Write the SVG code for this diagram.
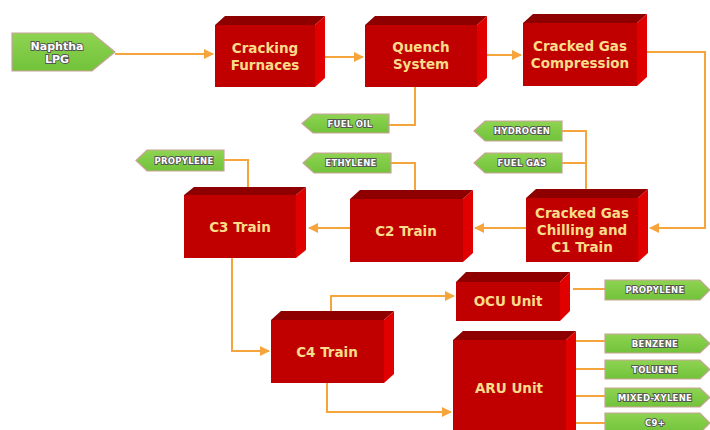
<svg xmlns="http://www.w3.org/2000/svg" width="710" height="430" viewBox="0 0 710 430">
<style>
.front{fill:#c00000}
.top{fill:#8e0000}
.side{fill:#e00000}
.bt{font-family:"DejaVu Sans",Verdana,sans-serif;font-weight:bold;font-size:13.5px;fill:#f8dc8a;text-anchor:middle}
.tag{fill:url(#g);stroke:#c9a39a;stroke-width:1.2}
.tt{font-family:"DejaVu Sans",Verdana,sans-serif;font-weight:bold;font-size:8.5px;fill:#ffffff;stroke:#555555;stroke-width:1.8;paint-order:stroke;text-anchor:middle;letter-spacing:0.3px}
.ln{fill:none;stroke:#f6a43c;stroke-width:2}
</style>
<defs>
<linearGradient id="g" x1="0" y1="0" x2="0" y2="1">
<stop offset="0" stop-color="#8ed452"/>
<stop offset="1" stop-color="#72c23a"/>
</linearGradient>
<marker id="a" viewBox="0 0 10 10" refX="9" refY="5" markerWidth="5" markerHeight="5" orient="auto" markerUnits="strokeWidth">
<path d="M0,0 L10,5 L0,10 z" fill="#f6a43c"/>
</marker>
</defs>

<g id="connectors">
<path class="ln" d="M115,54 H213" marker-end="url(#a)"/>
<path class="ln" d="M325,57 H363" marker-end="url(#a)"/>
<path class="ln" d="M480,55 H521" marker-end="url(#a)"/>
<path class="ln" d="M645,52 H705 V228 H650" marker-end="url(#a)"/>
<path class="ln" d="M415,87 V125 H389"/>
<path class="ln" d="M586,193 V131 H562"/>
<path class="ln" d="M586,163 H562"/>
<path class="ln" d="M526,228 H475" marker-end="url(#a)"/>
<path class="ln" d="M350,228 H309" marker-end="url(#a)"/>
<path class="ln" d="M415,196 V163 H391"/>
<path class="ln" d="M248,192 V160 H224"/>
<path class="ln" d="M232,258 V351 H269" marker-end="url(#a)"/>
<path class="ln" d="M331,311 V296 H454" marker-end="url(#a)"/>
<path class="ln" d="M327,383 V412 H451" marker-end="url(#a)"/>
<path class="ln" d="M573,289 H605"/>
<path class="ln" d="M573,341 H605"/>
<path class="ln" d="M573,369 H605"/>
<path class="ln" d="M573,396 H605"/>
<path class="ln" d="M573,423 H605"/>
</g>

<g id="naphtha">
<polygon class="tag" points="12,33 92,33 115,52 92,71 12,71"/>
<text class="tt" style="font-size:11px;letter-spacing:0" x="57" y="50">Naphtha</text>
<text class="tt" style="font-size:11px;letter-spacing:0" x="57" y="63">LPG</text>
</g>

<g id="furnaces">
<polygon class="top" points="215,25 225,16 325,16 315,25"/>
<polygon class="side" points="315,25 325,16 325,78 315,87"/>
<rect class="front" x="215" y="25" width="100" height="62"/>
<text class="bt" x="265" y="53">Cracking</text>
<text class="bt" x="265" y="70">Furnaces</text>
</g>

<g id="quench">
<polygon class="top" points="365,25 375,16 487,16 477,25"/>
<polygon class="side" points="477,25 487,16 487,78 477,87"/>
<rect class="front" x="365" y="25" width="112" height="62"/>
<text class="bt" x="421" y="52">Quench</text>
<text class="bt" x="421" y="69">System</text>
</g>

<g id="compression">
<polygon class="top" points="523,23 533,14 647,14 637,23"/>
<polygon class="side" points="637,23 647,14 647,77 637,86"/>
<rect class="front" x="523" y="23" width="114" height="63"/>
<text class="bt" x="580" y="51">Cracked Gas</text>
<text class="bt" x="580" y="68">Compression</text>
</g>

<g id="fueloil">
<polygon class="tag" points="302,123.5 313,114 389,114 389,133 313,133"/>
<text class="tt" x="350" y="127">FUEL OIL</text>
</g>

<g id="hydrogen">
<polygon class="tag" points="474,131 485,121 562,121 562,141 485,141"/>
<text class="tt" x="522" y="134">HYDROGEN</text>
</g>

<g id="fuelgas">
<polygon class="tag" points="474,163 485,153 562,153 562,173 485,173"/>
<text class="tt" x="522" y="166">FUEL GAS</text>
</g>

<g id="ethylene">
<polygon class="tag" points="303,163 314,153 391,153 391,173 314,173"/>
<text class="tt" x="351" y="166">ETHYLENE</text>
</g>

<g id="propylene-c3">
<polygon class="tag" points="136,160.5 147,150 224,150 224,171 147,171"/>
<text class="tt" x="184" y="163.5">PROPYLENE</text>
</g>

<g id="chilling">
<polygon class="top" points="526,198 536,189 648,189 638,198"/>
<polygon class="side" points="638,198 648,189 648,253 638,262"/>
<rect class="front" x="526" y="198" width="112" height="64"/>
<text class="bt" x="582" y="218">Cracked Gas</text>
<text class="bt" x="582" y="235">Chilling and</text>
<text class="bt" x="582" y="252">C1 Train</text>
</g>

<g id="c2">
<polygon class="top" points="350,199 360,190 473,190 463,199"/>
<polygon class="side" points="463,199 473,190 473,253 463,262"/>
<rect class="front" x="350" y="199" width="113" height="63"/>
<text class="bt" x="406" y="236">C2 Train</text>
</g>

<g id="c3">
<polygon class="top" points="184,195 194,187 306,187 296,195"/>
<polygon class="side" points="296,195 306,187 306,250 296,258"/>
<rect class="front" x="184" y="195" width="112" height="63"/>
<text class="bt" x="240" y="232">C3 Train</text>
</g>

<g id="c4">
<polygon class="top" points="271,320 281,311 394,311 384,320"/>
<polygon class="side" points="384,320 394,311 394,374 384,383"/>
<rect class="front" x="271" y="320" width="113" height="63"/>
<text class="bt" x="327" y="357">C4 Train</text>
</g>

<g id="ocu">
<polygon class="top" points="456,282 466,272 570,272 560,282"/>
<polygon class="side" points="560,282 570,272 570,311 560,321"/>
<rect class="front" x="456" y="282" width="104" height="39"/>
<text class="bt" x="508" y="306">OCU Unit</text>
</g>

<g id="aru">
<polygon class="top" points="453,340 463,331 576,331 566,340"/>
<polygon class="side" points="566,340 576,331 576,440 566,440"/>
<rect class="front" x="453" y="340" width="113" height="100"/>
<text class="bt" x="509" y="393">ARU Unit</text>
</g>

<g id="propylene-ocu">
<polygon class="tag" points="605,280 700,280 710,290 700,300 605,300"/>
<text class="tt" x="655" y="293">PROPYLENE</text>
</g>

<g id="benzene">
<polygon class="tag" points="605,334 700,334 710,343.5 700,353 605,353"/>
<text class="tt" x="655" y="346.5">BENZENE</text>
</g>

<g id="toluene">
<polygon class="tag" points="605,360 700,360 710,369.5 700,379 605,379"/>
<text class="tt" x="655" y="372.5">TOLUENE</text>
</g>

<g id="xylene">
<polygon class="tag" points="605,388 700,388 710,397.5 700,407 605,407"/>
<text class="tt" x="655" y="400.5">MIXED-XYLENE</text>
</g>

<g id="c9">
<polygon class="tag" points="605,413 700,413 710,423 700,433 605,433"/>
<text class="tt" x="655" y="426">C9+</text>
</g>
</svg>
